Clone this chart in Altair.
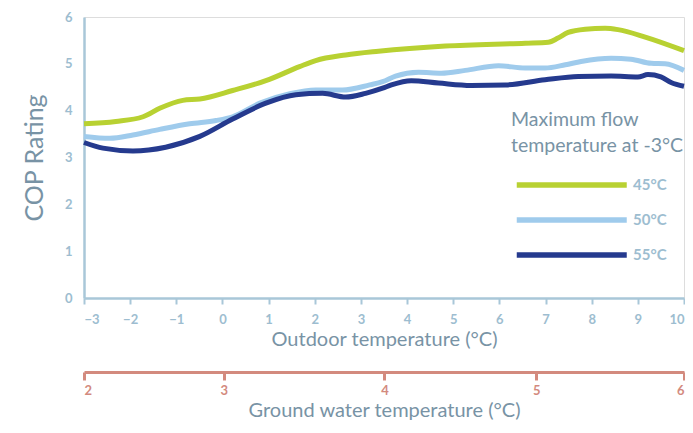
import altair as alt
import pandas as pd

# Outdoor temperature (°C) sample positions and COP readings per series
t_45 = [-3.0, -2.31, -1.72, -1.36, -0.86, -0.49, 0.22, 0.94, 1.67, 2.02, 2.67, 3.38,
        4.83, 6.56, 7.06, 7.27, 7.49, 7.86, 8.29, 8.57, 9.16, 10.0]
cop_45 = [3.72, 3.77, 3.87, 4.05, 4.22, 4.25, 4.43, 4.64, 4.94, 5.07, 5.19, 5.27,
          5.38, 5.44, 5.46, 5.55, 5.67, 5.74, 5.76, 5.73, 5.57, 5.28]

t_50 = [-3.0, -2.44, -1.94, -1.36, -0.71, -0.14, 0.22, 0.81, 1.46, 2.02, 2.60, 3.19,
        3.47, 3.75, 4.25, 4.74, 5.26, 5.98, 6.56, 6.99, 7.43, 7.77, 8.42, 8.85,
        9.29, 9.59, 10.0]
cop_50 = [3.45, 3.41, 3.48, 3.60, 3.72, 3.79, 3.87, 4.16, 4.36, 4.44, 4.44, 4.55,
          4.62, 4.74, 4.82, 4.80, 4.86, 4.96, 4.91, 4.91, 4.98, 5.05, 5.12, 5.10,
          5.01, 5.00, 4.86]

t_55 = [-3.0, -2.59, -1.94, -1.23, -0.49, 0.22, 0.94, 1.59, 2.17, 2.67, 3.10, 3.47,
        3.66, 4.09, 4.68, 5.39, 6.13, 6.99, 7.71, 8.42, 9.0, 9.22, 9.50, 9.72, 10.0]
cop_55 = [3.32, 3.20, 3.14, 3.22, 3.45, 3.82, 4.16, 4.34, 4.37, 4.29, 4.37, 4.48,
          4.55, 4.64, 4.59, 4.54, 4.55, 4.66, 4.73, 4.74, 4.72, 4.77, 4.72, 4.60, 4.52]

series_names = ["45°C", "50°C", "55°C"]
series_colors = ["#b8d132", "#9fcbec", "#253a8e"]

outdoor_ticks = list(range(-3, 11))
cop_ticks = [0, 1, 2, 3, 4, 5, 6]

# Ground water temperature axis: labels and their outdoor-temperature positions
ground_labels = [2, 3, 4, 5, 6]
ground_pos = [-3.0, 0.03, 3.51, 6.8, 10.0]

rows = []
for name, ts, vs in zip(series_names, [t_45, t_50, t_55], [cop_45, cop_50, cop_55]):
    for i, (t, v) in enumerate(zip(ts, vs)):
        rows.append({"series": name, "t": t, "cop": v, "order": i})
df = pd.DataFrame(rows)

gdf = pd.DataFrame({"pos": ground_pos, "label": ground_labels})

FONT = "Lato"
TICK_COL = "#9dbdd0"
TITLE_COL = "#7893a5"
AXIS_COL = "#a9c7d8"
GROUND_COL = "#d38a7e"

label_expr = " : ".join(
    f"abs(datum.value - ({p})) < 0.01 ? '{l}'" for p, l in zip(ground_pos, ground_labels)
) + " : ''"

lines = alt.Chart(df).mark_line(strokeWidth=5, interpolate="monotone").encode(
    x=alt.X("t:Q", scale=alt.Scale(domain=[-3, 10], nice=False, zero=False),
            axis=alt.Axis(values=outdoor_ticks, title="Outdoor temperature (°C)",
                          grid=False, domainColor=AXIS_COL, domainWidth=2.5,
                          tickColor=AXIS_COL, tickWidth=2, tickSize=6,
                          labelColor=TICK_COL, labelFontSize=13, labelFont=FONT,
                          labelPadding=9, labelFontWeight="bold",
                          titleColor=TITLE_COL, titleFontSize=20, titleFont=FONT,
                          titleFontWeight="normal", titlePadding=3)),
    y=alt.Y("cop:Q", scale=alt.Scale(domain=[0, 6], nice=False),
            axis=alt.Axis(values=cop_ticks, title="COP Rating", grid=False, ticks=False,
                          domainColor=AXIS_COL, domainWidth=2.5,
                          labelColor=TICK_COL, labelFontSize=13, labelFont=FONT,
                          labelFontWeight="bold", labelPadding=12,
                          titleColor=TITLE_COL, titleFontSize=25, titleFont=FONT,
                          titleFontWeight="normal", titlePadding=17)),
    color=alt.Color("series:N",
                    scale=alt.Scale(domain=series_names, range=series_colors),
                    legend=alt.Legend(title=["Maximum flow", "temperature at -3°C"],
                                      orient="none", legendX=427, legendY=94,
                                      symbolType="M -0.5 0 L 19.5 0", symbolSize=121,
                                      symbolStrokeWidth=5.5,
                                      labelFont=FONT, labelFontSize=15,
                                      labelFontWeight="bold", labelColor=TICK_COL,
                                      titleFont=FONT, titleFontSize=19.5,
                                      titleFontWeight="normal", titleColor=TITLE_COL,
                                      titleLineHeight=26, titleLimit=400,
                                      titlePadding=20, rowPadding=12,
                                      labelOffset=105)),
    order="order:Q",
)

ground = alt.Chart(gdf).mark_point(opacity=0).encode(
    x=alt.X("pos:Q", scale=alt.Scale(domain=[-3, 10], nice=False, zero=False),
            axis=alt.Axis(orient="bottom", offset=74, values=ground_pos,
                          labelExpr=label_expr, title="Ground water temperature (°C)",
                          grid=False, domainColor=GROUND_COL, domainWidth=3,
                          tickColor=GROUND_COL, tickWidth=3, tickSize=8,
                          labelColor=GROUND_COL, labelFontSize=13, labelFont=FONT,
                          labelFontWeight="bold", labelPadding=4,
                          titleColor=TITLE_COL, titleFontSize=20, titleFont=FONT,
                          titleFontWeight="normal", titlePadding=3)),
)

chart = alt.layer(lines, ground).resolve_scale(x="independent").properties(
    width=600, height=281,
    autosize=alt.AutoSizeParams(type="none"),
    padding={"left": 76, "top": 9, "right": 1, "bottom": 127},
).configure_view(stroke=None).configure(font=FONT)

chart.save("out.html", embed_options={"renderer": "svg", "actions": False})
